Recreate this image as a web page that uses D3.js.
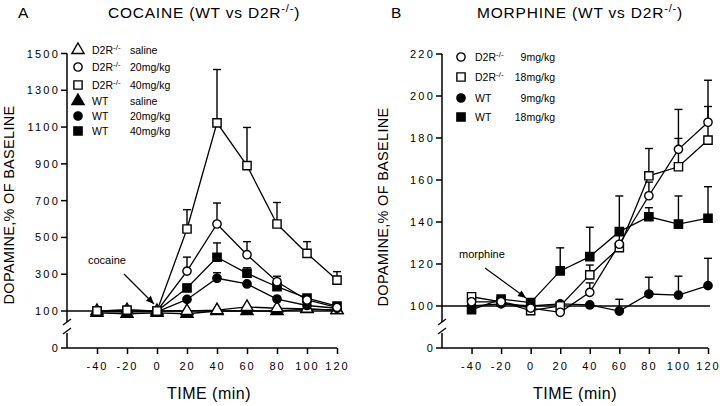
<!DOCTYPE html>
<html><head><meta charset="utf-8">
<script src="https://cdn.jsdelivr.net/npm/d3@7"></script>
<style>body{margin:0;background:#fff}svg{display:block;font-family:"Liberation Sans",Arial,sans-serif}</style>
</head><body><svg id="c" width="720" height="406"></svg>
<script>
// ---------- DATA ----------
const times = [-40, -20, 0, 20, 40, 60, 80, 100, 120];
const xTicks = [-40, -20, 0, 20, 40, 60, 80, 100, 120];

// Panel A: cocaine
const cocYTicks = [100, 300, 500, 700, 900, 1100, 1300, 1500];
const cocD2RSaline = [100, 105, 100, 100, 105, 122, 115, 112, 105];
const cocD2R20 = [100, 105, 100, 317, 573, 406, 259, 160, 120];
const cocD2R40 = [100, 105, 100, 546, 1123, 890, 573, 413, 268];
const cocWTSaline = [90, 85, 90, 85, 100, 100, 100, 110, 105];
const cocWT20 = [95, 95, 95, 163, 278, 247, 165, 130, 115];
const cocWT40 = [100, 100, 100, 225, 392, 305, 232, 170, 127];
const cocD2R20Err = [0, 0, 0, 76, 114, 71, 30, 0, 0];
const cocD2R40Err = [0, 0, 0, 105, 290, 208, 117, 64, 46];
const cocWT40Err = [0, 0, 0, 20, 78, 30, 0, 0, 0];
const cocWT20Err = [0, 0, 0, 0, 30, 0, 0, 0, 0];
const cocLegend = [["D2R", "saline"], ["D2R", "20mg/kg"], ["D2R", "40mg/kg"], ["WT", "saline"], ["WT", "20mg/kg"], ["WT", "40mg/kg"]];

// Panel B: morphine
const morYTicks = [100, 120, 140, 160, 180, 200, 220];
const morD2R9 = [102, 102, 99, 97, 106.5, 129.4, 152.5, 174.6, 187.5];
const morD2R18 = [104.4, 102, 97.8, 100, 114.8, 127.8, 162, 166.3, 179];
const morWT9 = [100, 101, 100, 101, 100.5, 97.6, 105.7, 105.2, 109.7];
const morWT18 = [98.2, 103.3, 101.6, 116.7, 123.5, 135.4, 142.5, 139, 141.8];
const morD2R9Err = [0, 0, 0, 0, 4.5, 0, 6.5, 19, 20];
const morD2R18Err = [0, 0, 0, 0, 4.7, 9, 13, 13.5, 16];
const morWT9Err = [0, 0, 0, 0, 0, 5.6, 8, 9, 13];
const morWT18Err = [0, 0, 0, 11, 14, 17, 4.3, 13.4, 15];
const morLegend = [["D2R", "9mg/kg"], ["D2R", "18mg/kg"], ["WT", "9mg/kg"], ["WT", "18mg/kg"]];

// ---------- DRAW ----------
const svg = d3.select("#c");

function marker(g, shape, filled, x, y) {
  const fill = filled ? "#000" : "#fff";
  let sym;
  if (shape === "tri") sym = d3.symbol(d3.symbolTriangle, 64)();
  else if (shape === "circ") sym = d3.symbol(d3.symbolCircle, 54)();
  else sym = d3.symbol(d3.symbolSquare, 68)();
  g.append("path").attr("d", sym).attr("transform", `translate(${x},${y})`)
    .attr("fill", fill).attr("stroke", "#000").attr("stroke-width", 1.4);
}

function panel(opt) {
  const g = svg.append("g");
  const x = d3.scaleLinear().domain([-60, 120]).range([opt.x0, opt.x1]);
  const y = d3.scaleLinear().domain([100, opt.yMax]).range([opt.y100, opt.yTop]);
  const y0 = opt.yZero;
  const ys = v => v === 0 ? y0 : y(v);

  // y axis with break
  g.append("line").attr("x1", opt.x0).attr("x2", opt.x0).attr("y1", opt.yTop).attr("y2", opt.brk1).attr("stroke", "#000").attr("stroke-width", 1.5);
  g.append("line").attr("x1", opt.x0).attr("x2", opt.x0).attr("y1", opt.brk2).attr("y2", y0).attr("stroke", "#000").attr("stroke-width", 1.5);
  [opt.brk1 - 1, opt.brk2 - 3].forEach(b => {
    g.append("line").attr("x1", opt.x0 - 4).attr("x2", opt.x0 + 4).attr("y1", b + 4).attr("y2", b - 2).attr("stroke", "#000").attr("stroke-width", 1.3);
  });
  // y ticks
  const yt = opt.yTicks.concat([0]);
  yt.forEach(t => {
    g.append("line").attr("x1", opt.x0 - 6).attr("x2", opt.x0).attr("y1", ys(t)).attr("y2", ys(t)).attr("stroke", "#000").attr("stroke-width", 1.5);
    g.append("text").attr("x", opt.x0 - 7).attr("y", ys(t) + 4).attr("text-anchor", "end")
      .attr("font-size", 11).attr("letter-spacing", "2.2px").text(t);
  });
  // x axis
  const xa = g.append("g").attr("transform", `translate(0,${y0})`)
    .call(d3.axisBottom(x).tickValues(xTicks).tickSize(6).tickPadding(8).tickFormat(d => d));
  xa.select(".domain").attr("stroke-width", 1.5).attr("d", `M${opt.x0},0H${x(120)}`);
  xa.selectAll(".tick line").attr("stroke-width", 1.5);
  xa.selectAll("text").attr("font-size", 11).attr("letter-spacing", "2px").attr("font-family", "Liberation Sans, Arial, sans-serif").attr("fill", "#000");

  // baseline
  g.append("line").attr("x1", opt.x0).attr("x2", opt.baseEnd).attr("y1", y(100)).attr("y2", y(100)).attr("stroke", "#000").attr("stroke-width", 1.3);

  // series
  const line = d3.line().x((d, i) => x(times[i])).y(d => y(d));
  opt.series.forEach(s => {
    g.append("path").attr("d", line(s.v)).attr("fill", "none").attr("stroke", "#000").attr("stroke-width", 1.3);
  });
  opt.series.forEach(s => {
    if (!s.e) return;
    s.v.forEach((v, i) => {
      if (!s.e[i]) return;
      const xx = x(times[i]), yt2 = y(v + s.e[i]);
      g.append("line").attr("x1", xx).attr("x2", xx).attr("y1", y(v)).attr("y2", yt2).attr("stroke", "#000").attr("stroke-width", 1.4);
      g.append("line").attr("x1", xx - 4).attr("x2", xx + 4).attr("y1", yt2).attr("y2", yt2).attr("stroke", "#000").attr("stroke-width", 1.4);
    });
  });
  opt.series.forEach(s => {
    s.v.forEach((v, i) => marker(g, s.shape, s.filled, x(times[i]), y(v)));
  });

  // legend
  opt.legend.forEach((l, i) => {
    const s = opt.legendSeries[i];
    const ly = opt.legY[i];
    marker(g, s.shape, s.filled, opt.legX, ly);
    const t = g.append("text").attr("x", opt.legX + 14).attr("y", ly + 4).attr("font-size", 10.5);
    if (l[0] === "D2R") {
      t.text("D2R");
      t.append("tspan").attr("dy", -4).attr("font-size", 8).text("-/-");
    } else t.text("WT");
    g.append("text").attr("x", opt.doseX).attr("y", ly + 4).attr("font-size", 10.5)
      .attr("text-anchor", opt.doseAnchor).text(l[1]);
  });

  // annotation
  g.append("text").attr("x", opt.ann.tx).attr("y", opt.ann.ty).attr("font-size", 11).text(opt.ann.text);
  g.append("line").attr("x1", opt.ann.x1).attr("y1", opt.ann.y1).attr("x2", opt.ann.x2).attr("y2", opt.ann.y2)
    .attr("stroke", "#000").attr("stroke-width", 1.2);
  const ang = Math.atan2(opt.ann.y2 - opt.ann.y1, opt.ann.x2 - opt.ann.x1);
  const L = 8, W = 3.5;
  const bx = opt.ann.x2 - L * Math.cos(ang), by = opt.ann.y2 - L * Math.sin(ang);
  g.append("path").attr("d", `M${opt.ann.x2},${opt.ann.y2}L${bx - W * Math.sin(ang)},${by + W * Math.cos(ang)}L${bx + W * Math.sin(ang)},${by - W * Math.cos(ang)}Z`).attr("fill", "#000");

  // titles
  g.append("text").attr("x", opt.letterX).attr("y", 18).attr("font-size", 15.5).text(opt.letter);
  const tt = g.append("text").attr("x", opt.titleX).attr("y", 18).attr("font-size", 15.5).attr("text-anchor", "middle").attr("letter-spacing", "0.8px");
  tt.append("tspan").text(opt.title + " (WT vs D2R");
  tt.append("tspan").attr("dy", -6).attr("font-size", 11).text("-/-");
  tt.append("tspan").attr("dy", 6).text(")");
  // y label
  g.append("text").attr("transform", `translate(${opt.yLabX},${opt.yLabY}) rotate(-90)`).attr("text-anchor", "middle")
    .attr("font-size", 14.5).attr("letter-spacing", "0.3px").text("DOPAMINE,% OF BASELINE");
  g.append("text").attr("x", opt.xLabX).attr("y", 399).attr("text-anchor", "middle").attr("font-size", 16).attr("letter-spacing", "0.5px").text("TIME (min)");
}

const sA = [
  {v: cocWTSaline, shape: "tri", filled: true},
  {v: cocD2RSaline, shape: "tri", filled: false},
  {v: cocWT20, shape: "circ", filled: true, e: cocWT20Err},
  {v: cocWT40, shape: "sq", filled: true, e: cocWT40Err},
  {v: cocD2R20, shape: "circ", filled: false, e: cocD2R20Err},
  {v: cocD2R40, shape: "sq", filled: false, e: cocD2R40Err}
];
panel({
  x0: 67, x1: 337, y100: 311, yTop: 53.5, yMax: 1500, yZero: 348, brk1: 322, brk2: 333, baseEnd: 342,
  yTicks: cocYTicks, series: sA,
  legend: cocLegend,
  legendSeries: [sA[1], sA[4], sA[5], sA[0], sA[2], sA[3]],
  legY: [50, 67, 85, 101, 116, 131], legX: 78, doseX: 130, doseAnchor: "start",
  ann: {text: "cocaine", tx: 88, ty: 264, x1: 124, y1: 274, x2: 154, y2: 304},
  letter: "A", letterX: 18, title: "COCAINE", titleX: 204, yLabX: 14, yLabY: 205, xLabX: 209
});

const sB = [
  {v: morWT9, shape: "circ", filled: true, e: morWT9Err},
  {v: morWT18, shape: "sq", filled: true, e: morWT18Err},
  {v: morD2R18, shape: "sq", filled: false, e: morD2R18Err},
  {v: morD2R9, shape: "circ", filled: false, e: morD2R9Err}
];
panel({
  x0: 442, x1: 708, y100: 306, yTop: 54, yMax: 220, yZero: 348, brk1: 322, brk2: 333, baseEnd: 710,
  yTicks: morYTicks, series: sB,
  legend: morLegend,
  legendSeries: [sB[3], sB[2], sB[0], sB[1]],
  legY: [57, 77, 98, 117], legX: 461, doseX: 555, doseAnchor: "end",
  ann: {text: "morphine", tx: 459, ty: 258, x1: 485, y1: 268, x2: 526, y2: 298},
  letter: "B", letterX: 391, title: "MORPHINE", titleX: 580, yLabX: 388, yLabY: 207, xLabX: 575
});
</script></body></html>
